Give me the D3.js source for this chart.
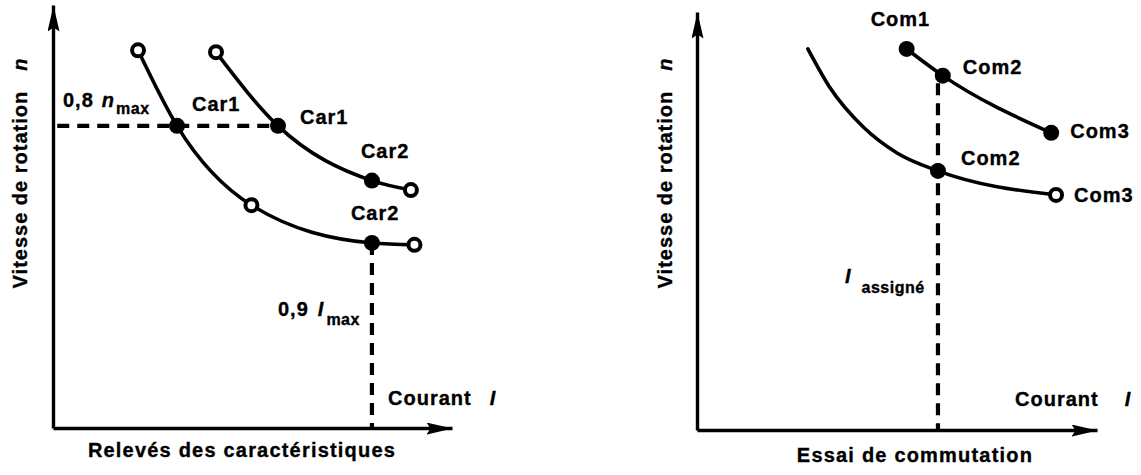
<!DOCTYPE html>
<html>
<head>
<meta charset="utf-8">
<script src="https://cdn.jsdelivr.net/npm/d3@7"></script>
<style>
  html, body { margin: 0; padding: 0; background: #fff; }
  svg { display: block; font-family: "Liberation Sans", Arial, Helvetica, sans-serif; font-weight: bold; }
  .lbl { font-size: 20px; letter-spacing: 1px; fill: #000; stroke: #000; stroke-width: 0.35px; }
  .sub { font-size: 16px; letter-spacing: 0.5px; }
  .it { font-style: italic; }
</style>
</head>
<body>
<script>
// ---- Relevés des caractéristiques (courant / I_max, vitesse / n_max) ----
const carLowI     = [0.24, 0.35, 0.56, 0.90, 1.02];
const carLowN     = [1.00, 0.80, 0.59, 0.49, 0.485];
const carLowMarks = ["open", "filled", "open", "filled", "open"];

const carHighI     = [0.46, 0.635, 0.90, 1.01];
const carHighN     = [0.995, 0.80, 0.655, 0.63];
const carHighMarks = ["open", "filled", "filled", "open"];

const nRef = 0.8;   // 0,8 n_max
const iRef = 0.9;   // 0,9 I_max

// ---- Essai de commutation (courant / I_assigné, vitesse relative) ----
const comHighI     = [0.87, 1.02, 1.47];
const comHighN     = [1.00, 0.93, 0.78];
const comHighMarks = ["filled", "filled", "filled"];

const comLowI     = [0.46, 0.55, 0.69, 0.83, 1.00, 1.49];
const comLowN     = [1.00, 0.90, 0.795, 0.727, 0.68, 0.617];
const comLowMarks = ["none", "none", "none", "none", "filled", "open"];

const iAssigne = 1.0;

// Point labels: [text, point index]
const carLowLabels  = [["Car1", 1], ["Car2", 3]];
const carHighLabels = [["Car1", 1], ["Car2", 2]];
const comHighLabels = [["Com1", 0], ["Com2", 1], ["Com3", 2]];
const comLowLabels  = [["Com2", 4], ["Com3", 5]];

const W = 1141, H = 475;
const svg = d3.select("body").append("svg").attr("width", W).attr("height", H);

// arrowhead for axis ends
svg.append("defs").append("marker")
  .attr("id", "arrow")
  .attr("markerUnits", "userSpaceOnUse")
  .attr("markerWidth", 30).attr("markerHeight", 14)
  .attr("refX", 26).attr("refY", 6)
  .attr("orient", "auto")
  .append("path")
  .attr("d", "M0,0 L26,6 L0,12 L4,6 Z")
  .attr("fill", "#000");

function zip(I, N, M) { return I.map((v, k) => ({ i: v, n: N[k], m: M[k] })); }

function panel(cfg) {
  const { x, y } = cfg;
  const g = svg.append("g");

  const line = d3.line().x(d => x(d.i)).y(d => y(d.n)).curve(d3.curveMonotoneX);

  // dashed guides
  cfg.guides.forEach(gd => {
    g.append("path")
      .attr("d", d3.line()(gd.map(p => [x(p[0]), y(p[1])])))
      .attr("fill", "none").attr("stroke", "#000")
      .attr("stroke-width", 4.2).attr("stroke-dasharray", "12,8");
  });

  // curves and their points
  cfg.curves.forEach(c => {
    g.append("path").datum(c.pts)
      .attr("d", line)
      .attr("fill", "none").attr("stroke", "#000")
      .attr("stroke-width", 3.6).attr("stroke-linecap", "round");

    g.selectAll(null).data(c.pts.filter(d => d.m !== "none")).join("circle")
      .attr("cx", d => x(d.i)).attr("cy", d => y(d.n))
      .attr("r", d => d.m === "filled" ? 8 : 6)
      .attr("fill", d => d.m === "filled" ? "#000" : "#fff")
      .attr("stroke", "#000")
      .attr("stroke-width", d => d.m === "filled" ? 0 : 4);

    c.labels.forEach(([txt, k], j) => {
      const p = c.pts[k];
      const off = c.offsets[j];
      g.append("text").attr("class", "lbl")
        .attr("x", x(p.i) + off[0]).attr("y", y(p.n) + off[1])
        .text(txt);
    });
  });

  // axes (no ticks, arrowed ends)
  const xa = g.append("g").attr("transform", `translate(0,${y(0)})`)
    .call(d3.axisBottom(x).tickValues([]).tickSizeOuter(0));
  const ya = g.append("g").attr("transform", `translate(${x(0)},0)`)
    .call(d3.axisLeft(y).tickValues([]).tickSizeOuter(0));
  [xa, ya].forEach(a => a.select(".domain")
    .attr("stroke", "#000").attr("stroke-width", 3.4)
    .attr("marker-end", "url(#arrow)"));

  // y-axis title
  const yt = g.append("text").attr("class", "lbl")
    .attr("text-anchor", "middle")
    .attr("transform", `translate(${cfg.yTitleX},173) rotate(-90)`);
  yt.append("tspan").text("Vitesse de rotation");
  yt.append("tspan").attr("class", "it").attr("dx", 20).text("n");

  // x-axis title "Courant I"
  const ct = g.append("text").attr("class", "lbl")
    .attr("x", cfg.courant[0]).attr("y", cfg.courant[1]);
  ct.append("tspan").text("Courant");
  ct.append("tspan").attr("class", "it").attr("dx", cfg.courant[2]).text("I");

  // caption under the panel
  g.append("text").attr("class", "lbl")
    .style("letter-spacing", "1.2px")
    .attr("text-anchor", "middle")
    .attr("x", cfg.caption[1]).attr("y", cfg.caption[2])
    .text(cfg.caption[0]);

  return g;
}

// ---------------- left panel ----------------
const xL = d3.scaleLinear().domain([0, 1.126]).range([53, 452]);
const yL = d3.scaleLinear().domain([0, 1.12]).range([428, 5]);

const carLow = zip(carLowI, carLowN, carLowMarks);
const carHigh = zip(carHighI, carHighN, carHighMarks);

const gl = panel({
  x: xL, y: yL,
  guides: [
    [[0.012, nRef], [carHighI[1], nRef]],
    [[iRef, carLowN[3]], [iRef, 0]]
  ],
  curves: [
    { pts: carLow, labels: carLowLabels, offsets: [[15, -15], [-21, -23]] },
    { pts: carHigh, labels: carHighLabels, offsets: [[22, -2], [-11, -23]] }
  ],
  yTitleX: 27,
  courant: [388, 405, 18],
  caption: ["Relevés des caractéristiques", 242, 457]
});

// 0,8 n_max
const t1 = gl.append("text").attr("class", "lbl").attr("x", 63).attr("y", 107);
t1.append("tspan").text("0,8");
t1.append("tspan").attr("class", "it").attr("dx", 8).text("n");
t1.append("tspan").attr("class", "sub").attr("dy", 7).attr("dx", 1).text("max");

// 0,9 I_max
const t2 = gl.append("text").attr("class", "lbl").attr("x", 278).attr("y", 316);
t2.append("tspan").text("0,9");
t2.append("tspan").attr("class", "it").attr("dx", 9).text("I");
t2.append("tspan").attr("class", "sub").attr("dy", 9).attr("dx", 2).text("max");

// ---------------- right panel ----------------
const xR = d3.scaleLinear().domain([0, 1.66]).range([697, 1097]);
const yR = d3.scaleLinear().domain([0, 1.097]).range([430, 12]);

const comHigh = zip(comHighI, comHighN, comHighMarks);
const comLow = zip(comLowI, comLowN, comLowMarks);

const gr = panel({
  x: xR, y: yR,
  guides: [
    [[iAssigne, comHighN[1] - 0.02], [iAssigne, 0]]
  ],
  curves: [
    { pts: comLow, labels: comLowLabels, offsets: [[23, -6], [18, 7]] },
    { pts: comHigh, labels: comHighLabels, offsets: [[-36, -23], [20, -2], [19, 5]] }
  ],
  yTitleX: 672,
  courant: [1015, 406, 26],
  caption: ["Essai de commutation", 915, 462]
});

// I assigné
const t3 = gr.append("text").attr("class", "lbl").attr("x", 845).attr("y", 283);
t3.append("tspan").attr("class", "it").text("I");
t3.append("tspan").attr("class", "sub").attr("dx", 10).attr("dy", 10).text("assigné");
</script>
</body>
</html>
